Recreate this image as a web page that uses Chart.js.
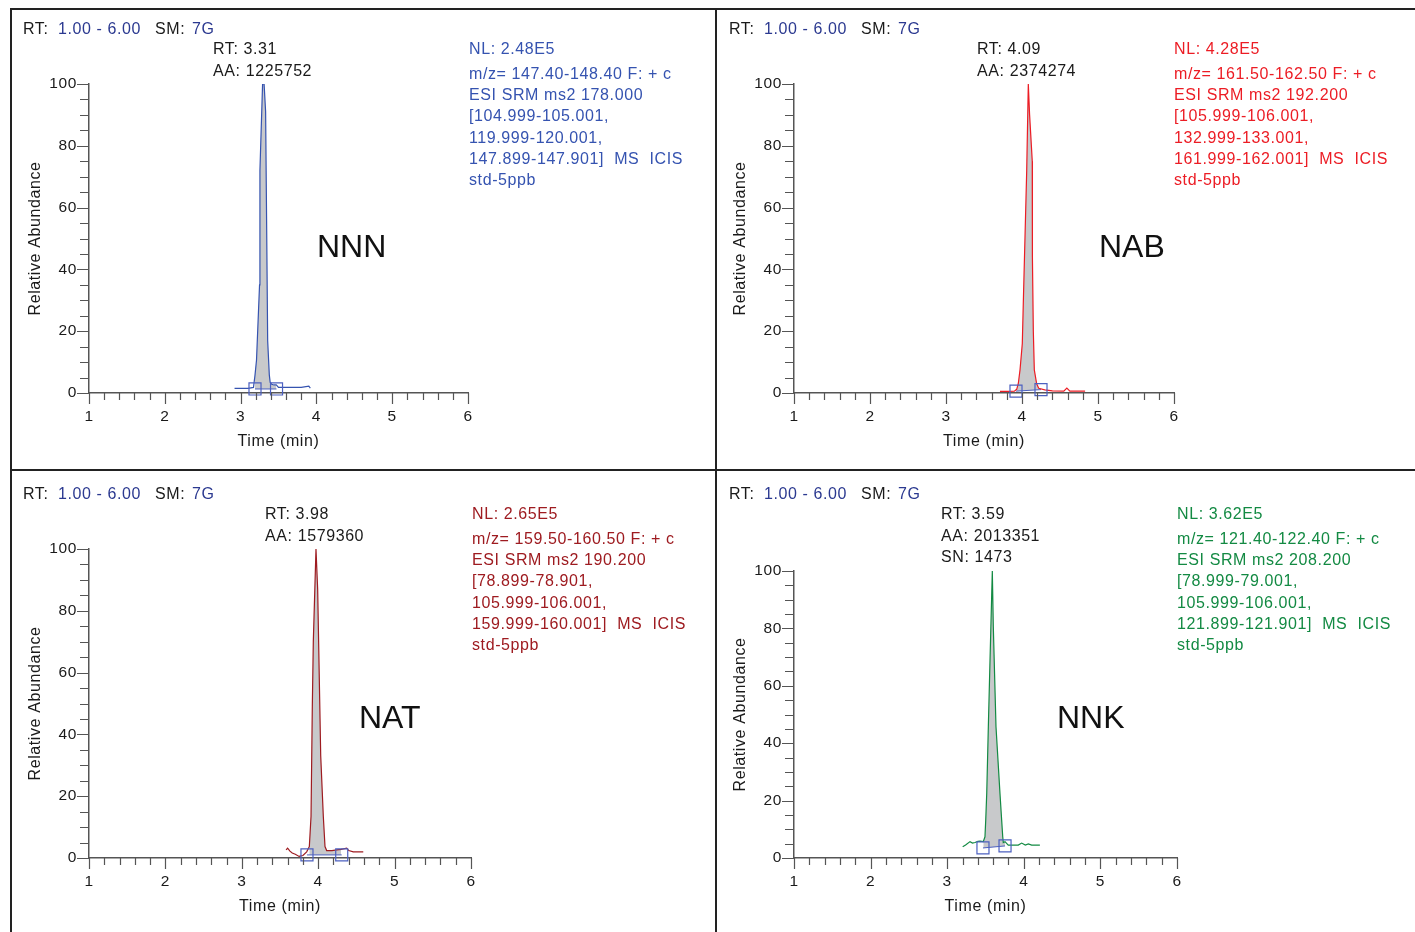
<!DOCTYPE html>
<html>
<head>
<meta charset="utf-8">
<script src="https://cdn.jsdelivr.net/npm/chart.js@4.4.1/dist/chart.umd.min.js"></script>
<style>
  body { margin: 0; background: #fff; width: 1415px; height: 932px; overflow: hidden; position: relative;
         font-family: "Liberation Sans", Arial, sans-serif; }
  .t { position: absolute; font-size: 16px; line-height: 18px; letter-spacing: 0.6px; white-space: pre; color: #1a1a1a; }
  .big { position: absolute; font-size: 32px; line-height: 32px; color: #111; white-space: pre; }
  .ln { position: absolute; background: #222; }
  canvas { position: absolute; }
</style>
</head>
<body>
<div class="ln" style="left:10px;top:8px;width:1405px;height:2px"></div>
<div class="ln" style="left:10px;top:8px;width:2px;height:924px"></div>
<div class="ln" style="left:715px;top:8px;width:2px;height:924px"></div>
<div class="ln" style="left:10px;top:469px;width:1405px;height:2px"></div>
<script>
// NNN trace (time in min, relative abundance %)
const nnnTime = [2.92, 3.00, 3.10, 3.17, 3.19, 3.21, 3.25, 3.255, 3.29, 3.31, 3.33, 3.344, 3.357, 3.379, 3.39, 3.41, 3.44, 3.47, 3.50, 3.60, 3.70, 3.80, 3.90, 3.92];
const nnnInt  = [1.5, 1.5, 1.5, 1.8, 5.8, 10.7, 35, 72, 100, 100, 91, 53, 17, 5.8, 3.5, 2.8, 2.6, 2.6, 1.8, 1.8, 1.8, 1.8, 2.2, 1.6];
const nnnMarkT = [3.19, 3.474];
const nnnMarkY = [1.3, 1.3];

// NAB
const nabTime = [3.71, 3.80, 3.90, 3.93, 3.951, 3.974, 4.004, 4.017, 4.062, 4.083, 4.10, 4.135, 4.137, 4.149, 4.162, 4.193, 4.22, 4.30, 4.40, 4.55, 4.59, 4.63, 4.75, 4.83];
const nabInt  = [0.5, 0.5, 0.6, 1.2, 3, 7.5, 16, 29, 72, 100, 90, 75, 44, 20, 7.5, 3, 1.5, 1.0, 0.7, 0.6, 1.6, 0.6, 0.6, 0.6];
const nabMarkT = [3.921, 4.25];
const nabMarkY = [0.6, 1.1];

// NAT
const natTime = [3.58, 3.60, 3.63, 3.66, 3.70, 3.75, 3.80, 3.849, 3.884, 3.906, 3.923, 3.936, 3.971, 3.993, 4.033, 4.067, 4.089, 4.111, 4.18, 4.242, 4.30, 4.373, 4.40, 4.459, 4.59];
const natInt  = [2.6, 3.2, 2.2, 1.6, 1.2, 0.5, 0.8, 2, 3.7, 13.4, 49, 70, 100, 87, 33, 13.4, 3.7, 2.4, 2.4, 2.6, 2.8, 3.2, 2.4, 2, 2];
const natMarkT = [3.853, 4.308];
const natMarkY = [1.0, 1.0];

// NNK
const nnkTime = [3.202, 3.24, 3.298, 3.33, 3.363, 3.40, 3.428, 3.471, 3.493, 3.503, 3.516, 3.537, 3.559, 3.589, 3.602, 3.637, 3.689, 3.711, 3.725, 3.732, 3.755, 3.797, 3.85, 3.928, 3.972, 4.02, 4.059, 4.103, 4.21];
const nnkInt  = [3.9, 4.5, 5.7, 5.2, 5.4, 5.8, 5.9, 5.7, 7.4, 13.2, 22.5, 45.7, 69, 100, 80.6, 45.7, 22.5, 13.2, 7.4, 5.4, 5.7, 4.5, 4.5, 4.5, 5.2, 4.5, 4.9, 4.5, 4.5];
const nnkMarkT = [3.467, 3.755];
const nnkMarkY = [3.5, 4.2];

// text blocks
const nnnPeak = ["RT: 3.31", "AA: 1225752"];
const nabPeak = ["RT: 4.09", "AA: 2374274"];
const natPeak = ["RT: 3.98", "AA: 1579360"];
const nnkPeak = ["RT: 3.59", "AA: 2013351", "SN: 1473"];
const nnnInfo = ["NL: 2.48E5", "m/z= 147.40-148.40 F: + c", "ESI SRM ms2 178.000", "[104.999-105.001,", "119.999-120.001,", "147.899-147.901]  MS  ICIS", "std-5ppb"];
const nabInfo = ["NL: 4.28E5", "m/z= 161.50-162.50 F: + c", "ESI SRM ms2 192.200", "[105.999-106.001,", "132.999-133.001,", "161.999-162.001]  MS  ICIS", "std-5ppb"];
const natInfo = ["NL: 2.65E5", "m/z= 159.50-160.50 F: + c", "ESI SRM ms2 190.200", "[78.899-78.901,", "105.999-106.001,", "159.999-160.001]  MS  ICIS", "std-5ppb"];
const nnkInfo = ["NL: 3.62E5", "m/z= 121.40-122.40 F: + c", "ESI SRM ms2 208.200", "[78.999-79.001,", "105.999-106.001,", "121.899-121.901]  MS  ICIS", "std-5ppb"];

const navy = "#2b3990";
const markBlue = "#4c60c0";
const grayFill = "#c8c9cb";
const axisColor = "#555";
const infoDy = [0, 25, 46, 67, 89, 110, 131];

const panels = [
  { name: "NNN", color: "#3553b0", time: nnnTime, inten: nnnInt, markT: nnnMarkT, markY: nnnMarkY, peak: nnnPeak, info: nnnInfo,
    cx: 12, cy: 10, cw: 703, ch: 459, plot: [89, 468, 84, 393], yTitleX: 36, xTitleY: 441,
    hdrX: 23, hdrY: 29, peakX: 213, peakY: 49, infoX: 469, infoY: 49, bigX: 317, bigY: 246 },
  { name: "NAB", color: "#ec1c24", time: nabTime, inten: nabInt, markT: nabMarkT, markY: nabMarkY, peak: nabPeak, info: nabInfo,
    cx: 718, cy: 10, cw: 697, ch: 459, plot: [794, 1174, 84, 393], yTitleX: 741, xTitleY: 441,
    hdrX: 729, hdrY: 29, peakX: 977, peakY: 49, infoX: 1174, infoY: 49, bigX: 1099, bigY: 246 },
  { name: "NAT", color: "#9e1b20", time: natTime, inten: natInt, markT: natMarkT, markY: natMarkY, peak: natPeak, info: natInfo,
    cx: 12, cy: 472, cw: 703, ch: 460, plot: [89, 471, 549, 858], yTitleX: 36, xTitleY: 906,
    hdrX: 23, hdrY: 494, peakX: 265, peakY: 514, infoX: 472, infoY: 514, bigX: 359, bigY: 717 },
  { name: "NNK", color: "#138a43", time: nnkTime, inten: nnkInt, markT: nnkMarkT, markY: nnkMarkY, peak: nnkPeak, info: nnkInfo,
    cx: 718, cy: 472, cw: 697, ch: 460, plot: [794, 1177, 571, 858], yTitleX: 741, xTitleY: 906,
    hdrX: 729, hdrY: 494, peakX: 941, peakY: 514, infoX: 1177, infoY: 514, bigX: 1057, bigY: 717 }
];

const isWhole = v => Math.abs(v - Math.round(v)) < 1e-6;

function addText(str, x, cy, color, cls) {
  const d = document.createElement("div");
  d.className = cls || "t";
  d.textContent = str;
  d.style.left = x + "px";
  d.style.top = (cls === "big" ? cy - 16 : cy - 9) + "px";
  if (color) d.style.color = color;
  document.body.appendChild(d);
}

// minor / major tick marks from the scales' own ticks
const tickMarks = {
  id: "tickMarks",
  afterDraw(chart) {
    const { ctx, chartArea: a, scales: { x, y } } = chart;
    ctx.save();
    ctx.strokeStyle = axisColor;
    ctx.lineWidth = 1.2;
    ctx.beginPath();
    x.ticks.forEach(t => {
      const px = Math.round(x.getPixelForValue(t.value)) + 0.5;
      ctx.moveTo(px, a.bottom);
      ctx.lineTo(px, a.bottom + (isWhole(t.value) ? 11 : 7));
    });
    y.ticks.forEach(t => {
      const py = Math.round(y.getPixelForValue(t.value)) + 0.5;
      ctx.moveTo(a.left, py);
      ctx.lineTo(a.left - (Math.round(t.value) % 20 === 0 ? 12 : 9), py);
    });
    ctx.stroke();
    ctx.restore();
  }
};

const spacing = { id: "spacing", beforeDraw(chart) { chart.ctx.letterSpacing = "0.6px"; } };

function makeChart(p) {
  const cv = document.createElement("canvas");
  cv.width = p.cw; cv.height = p.ch;
  cv.style.left = p.cx + "px"; cv.style.top = p.cy + "px";
  document.body.appendChild(cv);

  const aL = p.plot[0] - p.cx, aR = p.plot[1] - p.cx, aT = p.plot[2] - p.cy, aB = p.plot[3] - p.cy;
  const xH = Math.round(p.xTitleY - p.plot[3] + 9.6);

  const trace = p.time.map((t, i) => ({ x: t, y: p.inten[i] }));
  const area = trace.filter(d => d.x >= p.markT[0] && d.x <= p.markT[1]);
  const marks = p.markT.map((t, i) => ({ x: t, y: p.markY[i] }));

  const tickFont = { family: "Liberation Sans", size: 15.5 };
  const titleFont = { family: "Liberation Sans", size: 16 };

  new Chart(cv, {
    type: "line",
    data: {
      datasets: [
        { data: marks, borderColor: markBlue, borderWidth: 1, pointRadius: 0, order: 2 },
        { data: area, borderWidth: 0, pointRadius: 0, fill: "-1", backgroundColor: grayFill, order: 3 },
        { data: trace, borderColor: p.color, borderWidth: 1.2, pointRadius: 0, order: 1 },
        { data: marks, showLine: false, pointStyle: "rect", pointRadius: 8.5, pointBorderWidth: 1.2,
          pointBorderColor: markBlue, pointBackgroundColor: "rgba(0,0,0,0)", clip: false, order: 0 }
      ]
    },
    options: {
      responsive: false,
      animation: false,
      devicePixelRatio: 1,
      layout: { padding: { left: 0, top: aT, right: p.cw - aR, bottom: p.ch - aB - xH } },
      plugins: { legend: { display: false }, tooltip: { enabled: false } },
      elements: { line: { tension: 0 } },
      scales: {
        x: {
          type: "linear", min: 1, max: 6,
          grid: { display: false, drawTicks: false },
          border: { display: true, color: axisColor, width: 1.5 },
          ticks: { stepSize: 0.2, autoSkip: false, maxRotation: 0, padding: 14, color: "#1a1a1a", font: tickFont,
                   callback: v => isWhole(v) ? String(Math.round(v)) : "" },
          title: { display: true, text: "Time (min)", color: "#1a1a1a", font: titleFont, padding: 0 },
          afterFit: s => { s.height = xH; }
        },
        y: {
          min: 0, max: 100,
          grid: { display: false, drawTicks: false },
          border: { display: true, color: axisColor, width: 1.5 },
          ticks: { stepSize: 5, autoSkip: false, padding: 12, color: "#1a1a1a", font: tickFont,
                   callback: v => Math.round(v) % 20 === 0 ? String(Math.round(v)) : "" },
          title: { display: true, text: "Relative Abundance", color: "#1a1a1a", font: titleFont,
                   padding: { top: p.yTitleX - p.cx - 9.6, bottom: 0 } },
          afterFit: s => { s.width = aL; }
        }
      }
    },
    plugins: [spacing, tickMarks]
  });

  // header and annotations
  addText("RT:", p.hdrX, p.hdrY);
  addText("1.00 - 6.00", p.hdrX + 35, p.hdrY, navy);
  addText("SM:", p.hdrX + 132, p.hdrY);
  addText("7G", p.hdrX + 169, p.hdrY, navy);
  p.peak.forEach((s, i) => addText(s, p.peakX, p.peakY + i * 21.5));
  p.info.forEach((s, i) => addText(s, p.infoX, p.infoY + infoDy[i], p.color));
  addText(p.name, p.bigX, p.bigY, null, "big");
}

panels.forEach(makeChart);
</script>
</body>
</html>
